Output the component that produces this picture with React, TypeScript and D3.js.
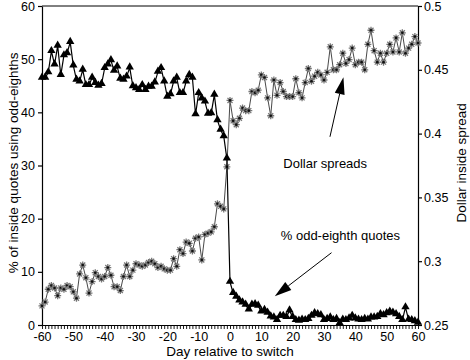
import * as d3 from 'd3';
import React, { useEffect, useRef } from 'react';

// day relative to the switch, -60 .. 60
const days = d3.range(-60, 61);

// % of inside quotes using odd-eighths (left axis)
const oddEighthPct = [
  46.5, 46.5, 47.5, 51.5, 49.0, 52.5, 47.0, 50.7, 51.1, 53.2,
  48.8, 46.1, 45.8, 48.0, 45.1, 45.1, 46.5, 45.5, 45.0, 45.3,
  48.3, 49.0, 49.8, 47.8, 48.6, 46.3, 46.1, 46.7, 48.4, 44.9,
  44.5, 44.2, 45.1, 44.2, 44.8, 44.8, 45.6, 47.6, 48.3, 45.8,
  42.9, 43.4, 45.8, 46.5, 43.6, 43.6, 45.8, 47.0, 46.5, 39.6,
  43.6, 42.6, 42.0, 39.7, 39.8, 43.3, 38.5, 36.7, 35.5, 31.3,
  8.1, 6.0, 5.3, 4.6, 4.2, 3.8, 2.9, 3.8, 3.9, 3.6,
  2.5, 2.8, 2.3, 1.6, 1.4, 0.9, 1.7, 1.7, 1.5, 2.7,
  1.5, 0.9, 0.8, 1.0, 0.9, 1.1, 1.7, 2.2, 2.0, 1.8,
  0.9, 1.1, 1.4, 0.9, 1.1, 0.3, 1.0, 0.9, 1.2, 1.7,
  1.2, 1.0, 0.9, 1.1, 1.0, 1.4, 1.4, 1.5, 2.0, 1.8,
  2.2, 2.5, 2.3, 2.0, 1.5, 0.9, 3.3, 1.0, 0.9, 0.7,
  0.4
];

// dollar inside spread (right axis)
const dollarSpread = [
  0.265, 0.268, 0.278, 0.281, 0.279, 0.273, 0.279, 0.278, 0.281, 0.280,
  0.276, 0.271, 0.290, 0.297, 0.287, 0.275, 0.284, 0.291, 0.288, 0.286,
  0.288, 0.295, 0.289, 0.280, 0.280, 0.277, 0.288, 0.297, 0.288, 0.293,
  0.298, 0.297, 0.296, 0.297, 0.299, 0.300, 0.298, 0.295, 0.296, 0.294,
  0.293, 0.293, 0.302, 0.296, 0.309, 0.306, 0.315, 0.314, 0.308, 0.318,
  0.319, 0.301, 0.321, 0.322, 0.323, 0.327, 0.345, 0.343, 0.341, 0.374,
  0.426, 0.410, 0.407, 0.412, 0.420, 0.418, 0.418, 0.433, 0.432, 0.434,
  0.446, 0.444, 0.428, 0.414, 0.442, 0.430, 0.440, 0.433, 0.429, 0.429,
  0.429, 0.443, 0.432, 0.428, 0.440, 0.451, 0.441, 0.445, 0.448, 0.446,
  0.442, 0.448, 0.468, 0.450, 0.450, 0.454, 0.463, 0.455, 0.458, 0.467,
  0.454, 0.456, 0.456, 0.450, 0.470, 0.481, 0.465, 0.456, 0.463, 0.456,
  0.463, 0.470, 0.464, 0.475, 0.464, 0.479, 0.463, 0.467, 0.470, 0.476,
  0.471
];

const leftTicks = [0, 10, 20, 30, 40, 50, 60];
const rightTicks = [0.25, 0.3, 0.35, 0.4, 0.45, 0.5];

const FONT = "'Liberation Sans', Arial, Helvetica, sans-serif";

export default function App() {
  const ref = useRef<SVGSVGElement>(null);

  useEffect(() => {
    const svg = d3.select(ref.current);
    svg.selectAll('*').remove();

    const x = d3.scaleLinear().domain([-60, 60]).range([42, 418]);
    const yL = d3.scaleLinear().domain([0, 60]).range([325, 6]);
    const yR = d3.scaleLinear().domain([0.25, 0.5]).range([325, 6]);

    // frame top
    svg
      .append('line')
      .attr('x1', x(-60))
      .attr('x2', x(60))
      .attr('y1', yL(60))
      .attr('y2', yL(60))
      .attr('stroke', '#000')
      .attr('stroke-width', 1);

    const gx = svg
      .append('g')
      .attr('transform', 'translate(0,' + yL(0) + ')')
      .call(
        d3
          .axisBottom(x)
          .tickValues(days)
          .tickSize(4)
          .tickSizeOuter(0)
          .tickPadding(3)
          .tickFormat((d: any) => (d % 10 === 0 ? String(d) : ''))
      );

    const gl = svg
      .append('g')
      .attr('transform', 'translate(' + x(-60) + ',0)')
      .call(d3.axisLeft(yL).tickValues(leftTicks).tickSize(4).tickSizeOuter(0).tickPadding(3));

    const gr = svg
      .append('g')
      .attr('transform', 'translate(' + x(60) + ',0)')
      .call(
        d3
          .axisRight(yR)
          .tickValues(rightTicks)
          .tickSize(4)
          .tickSizeOuter(0)
          .tickPadding(2)
          .tickFormat((d: any) => String(+(+d).toFixed(2)))
      );

    [gx, gl, gr].forEach((g) => {
      g.attr('font-family', FONT).attr('font-size', 12.5);
      g.selectAll('path,line').attr('stroke', '#000').attr('stroke-width', 1.2);
      g.selectAll('text').attr('fill', '#000');
    });
    gx.selectAll('.tick line').attr('stroke-width', 0.9);

    // dollar spread series
    const spreadLine = d3
      .line<number>()
      .x((d, i) => x(days[i]))
      .y((d) => yR(d));
    svg
      .append('path')
      .attr('d', spreadLine(dollarSpread))
      .attr('fill', 'none')
      .attr('stroke', '#333')
      .attr('stroke-width', 0.9);

    const r = 3.5;
    const k = r * 0.72;
    const star =
      'M' + -r + ',0L' + r + ',0M0,' + -r + 'L0,' + r +
      'M' + -k + ',' + -k + 'L' + k + ',' + k + 'M' + -k + ',' + k + 'L' + k + ',' + -k;
    const stars = svg
      .append('g')
      .selectAll('g')
      .data(dollarSpread)
      .enter()
      .append('g')
      .attr('transform', (d, i) => 'translate(' + x(days[i]) + ',' + yR(d) + ')');
    stars
      .append('path')
      .attr('d', star)
      .attr('fill', 'none')
      .attr('stroke', '#777')
      .attr('stroke-width', 1.3);
    stars
      .append('circle')
      .attr('r', 1.3)
      .attr('fill', '#111');

    // odd-eighth series
    const pctLine = d3
      .line<number>()
      .x((d, i) => x(days[i]))
      .y((d) => yL(d));
    svg
      .append('path')
      .attr('d', pctLine(oddEighthPct))
      .attr('fill', 'none')
      .attr('stroke', '#000')
      .attr('stroke-width', 1.2);

    const tri = d3.symbol().type(d3.symbolTriangle).size(30);
    svg
      .append('g')
      .selectAll('path')
      .data(oddEighthPct)
      .enter()
      .append('path')
      .attr('transform', (d, i) => 'translate(' + x(days[i]) + ',' + (yL(d) - 0.5) + ')')
      .attr('d', tri() as string)
      .attr('fill', '#000');

    // annotations
    const arrow = (x1: number, y1: number, x2: number, y2: number) => {
      const dx = x2 - x1;
      const dy = y2 - y1;
      const len = Math.sqrt(dx * dx + dy * dy);
      const ux = dx / len;
      const uy = dy / len;
      const hl = 17;
      const hw = 5;
      const bx = x2 - ux * hl;
      const by = y2 - uy * hl;
      svg
        .append('line')
        .attr('x1', x1)
        .attr('y1', y1)
        .attr('x2', bx)
        .attr('y2', by)
        .attr('stroke', '#000')
        .attr('stroke-width', 1);
      svg
        .append('path')
        .attr(
          'd',
          'M' + x2 + ',' + y2 +
            'L' + (bx - uy * hw) + ',' + (by + ux * hw) +
            'L' + (bx + uy * hw) + ',' + (by - ux * hw) + 'Z'
        )
        .attr('fill', '#000');
    };

    arrow(x(31.9), yL(35.4), x(36.2), yL(46.6));
    arrow(x(32.4), yL(13.6), x(14.3), yL(5.4));

    svg
      .append('text')
      .attr('x', x(17))
      .attr('y', yL(29.6))
      .attr('font-family', FONT)
      .attr('font-size', 13)
      .text('Dollar spreads');

    svg
      .append('text')
      .attr('x', x(16.2))
      .attr('y', yL(16))
      .attr('font-family', FONT)
      .attr('font-size', 13)
      .text('% odd-eighth quotes');

    // axis titles
    svg
      .append('text')
      .attr('x', x(0))
      .attr('y', 356)
      .attr('text-anchor', 'middle')
      .attr('font-family', FONT)
      .attr('font-size', 13.5)
      .text('Day relative to switch');

    svg
      .append('text')
      .attr('transform', 'translate(18,' + yL(30.5) + ') rotate(-90)')
      .attr('text-anchor', 'middle')
      .attr('font-family', FONT)
      .attr('font-size', 13.5)
      .text('% of inside quotes using odd-eighths');

    svg
      .append('text')
      .attr('transform', 'translate(466,' + yL(30.5) + ') rotate(-90)')
      .attr('text-anchor', 'middle')
      .attr('font-family', FONT)
      .attr('font-size', 13.5)
      .text('Dollar inside spread');
  }, []);

  return (
    <svg
      ref={ref}
      width={470}
      height={360}
      style={{ position: 'absolute', left: 0, top: 0, background: '#fff' }}
    />
  );
}
